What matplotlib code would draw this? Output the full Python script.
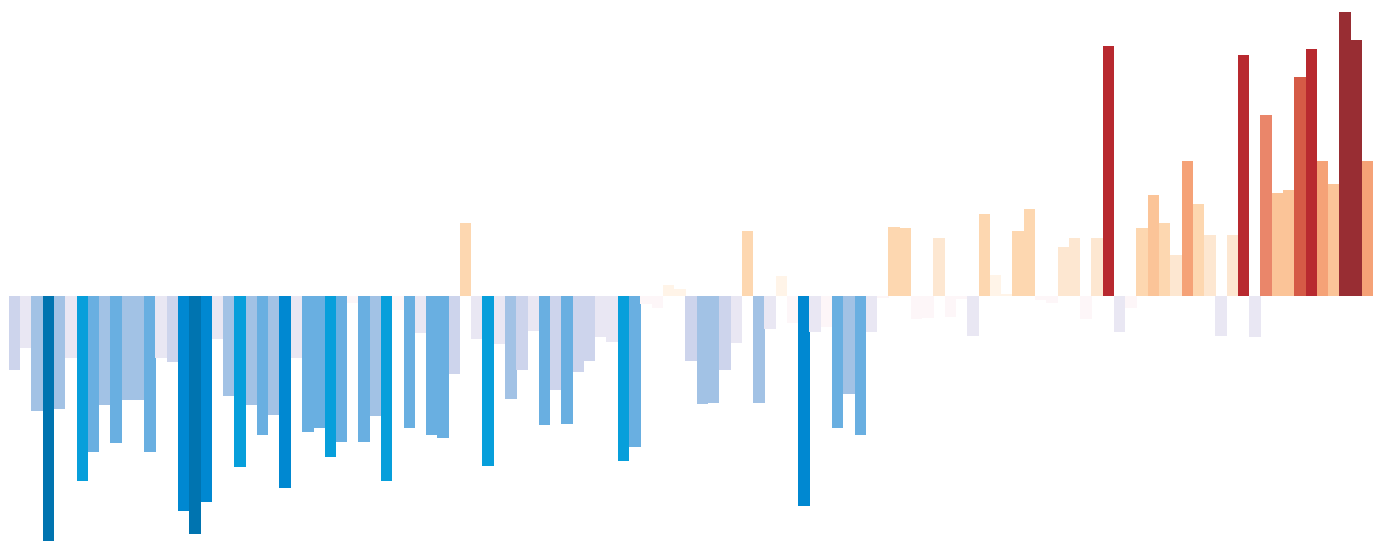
import numpy as np
import matplotlib
matplotlib.use("Agg")
import matplotlib.pyplot as plt

# ── данные: аномалия температуры по годам, °C ───────────────────────────────
years = np.arange(1901, 2022)

anomaly = [
    -0.58, -0.41, -0.91, -1.94, -0.89, -0.49, -1.46, -1.23, -0.86, -1.16,
    -0.82, -0.82, -1.23, -0.49, -0.52, -1.70, -1.88, -1.63, -0.34, -0.79,
    -1.35, -0.86, -1.10, -0.94, -1.52, -0.49, -1.07, -1.04, -1.27, -1.15,
    -0.05, -1.15, -0.95, -1.46, -0.11, -1.04, -0.29, -1.10, -1.12, -0.61,
     0.58, -0.34, -1.34, -0.38, -0.81, -0.58, -0.27, -1.02, -0.74, -1.01,
    -0.60, -0.51, -0.32, -0.36, -1.30, -1.19, -0.06, -0.09,  0.09,  0.06,
    -0.51, -0.85, -0.84, -0.58, -0.37,  0.52, -0.84, -0.26,  0.16, -0.21,
    -1.66, -0.28, -0.24, -1.04, -0.77, -1.10, -0.28, -0.01,  0.55,  0.54,
    -0.18, -0.17,  0.46, -0.16, -0.02, -0.31,  0.65,  0.17,  0.02,  0.52,
     0.69, -0.03, -0.05,  0.39,  0.46, -0.18,  0.46,  1.98, -0.28, -0.09,
     0.54,  0.80,  0.58,  0.33,  1.07,  0.73,  0.49, -0.31,  0.49,  1.91,
    -0.32,  1.44,  0.82,  0.84,  1.74,  1.96,  1.07,  0.89,  2.25,  2.03,
     1.07,
]

# шкала цветов: шаг 0.25 °C
neg_colors = ["#fdf6f8", "#e9e7f3", "#cdd4ec", "#a2c2e5", "#69afe1",
              "#079fdb", "#0088d1", "#0074b0"]
pos_colors = ["#fff4e8", "#fde7d1", "#fdd7b0", "#fbc498", "#f5a277",
              "#ea866a", "#d55a46", "#b8292f", "#982d33"]
step = 0.25

vals = np.array(anomaly)
colors = []
for v in vals:
    lvl = int(abs(v) // step)
    if v >= 0:
        colors.append(pos_colors[min(lvl, len(pos_colors) - 1)])
    else:
        colors.append(neg_colors[min(lvl, len(neg_colors) - 1)])

# ── рисунок ─────────────────────────────────────────────────────────────────
fig = plt.figure(figsize=(13.89, 5.42), dpi=100, facecolor="white")
ax = fig.add_axes([0, 0, 1, 1])
ax.set_facecolor("white")

x = np.arange(len(vals))
ax.bar(x, vals, width=1.02, color=colors, linewidth=0)

ax.set_xlim(-1.298, 121.89)
ax.set_ylim(-1.944, 2.347)
ax.axis("off")

fig.savefig("out.png", dpi=100, facecolor=fig.get_facecolor())
